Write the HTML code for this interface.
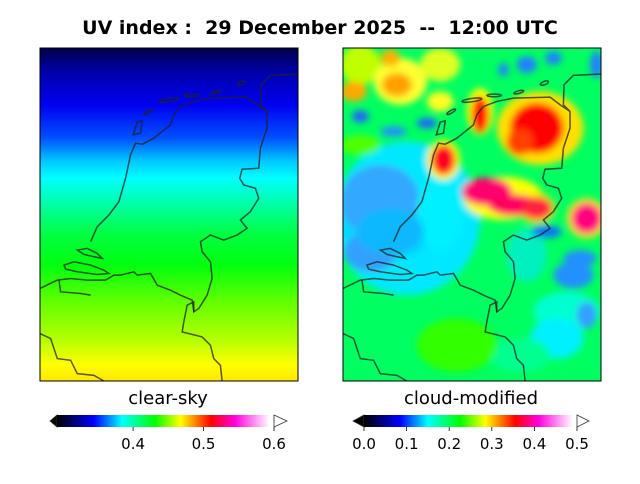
<!DOCTYPE html>
<html><head><meta charset="utf-8"><style>
html,body{margin:0;padding:0;background:#fff;}
#c{position:relative;width:640px;height:480px;font-family:"DejaVu Sans","Liberation Sans",sans-serif;}
text{white-space:pre;}
</style></head><body>
<div id="c">
<svg id="s" width="640" height="480" viewBox="0 0 640 480" xmlns="http://www.w3.org/2000/svg" xml:space="preserve">
<defs>
<linearGradient id="clear" x1="0" y1="0" x2="0" y2="1">
<stop offset="0" stop-color="#000048"/><stop offset="0.07" stop-color="#0000a8"/>
<stop offset="0.17" stop-color="#0000f0"/><stop offset="0.27" stop-color="#0050ff"/>
<stop offset="0.34" stop-color="#00c8ff"/><stop offset="0.39" stop-color="#00ffff"/>
<stop offset="0.46" stop-color="#00ffb0"/><stop offset="0.56" stop-color="#00ff40"/>
<stop offset="0.65" stop-color="#00ff10"/><stop offset="0.76" stop-color="#60ff00"/>
<stop offset="0.88" stop-color="#b8ff00"/><stop offset="0.95" stop-color="#ffff00"/>
<stop offset="1" stop-color="#ffe800"/></linearGradient>
<linearGradient id="cmap" x1="0" y1="0" x2="1" y2="0">
<stop offset="0" stop-color="#000"/><stop offset="0.17" stop-color="#0000ff"/>
<stop offset="0.30" stop-color="#00ffff"/><stop offset="0.45" stop-color="#00ff00"/>
<stop offset="0.57" stop-color="#ffff00"/><stop offset="0.63" stop-color="#ff9000"/>
<stop offset="0.71" stop-color="#ff0000"/><stop offset="0.82" stop-color="#ff00e0"/>
<stop offset="0.98" stop-color="#ffffff"/><stop offset="1" stop-color="#fff"/></linearGradient>
<filter id="bl" x="-20%" y="-20%" width="140%" height="140%"><feGaussianBlur stdDeviation="10"/></filter>
<clipPath id="cp"><rect x="8" y="10" width="775" height="997"/></clipPath>
<g id="coast" fill="none" stroke="#222" stroke-opacity="0.75" stroke-width="4.5">
<path d="M8,730 L60,705 L100,700 L150,705 L205,705"/>
<path d="M160,590 L180,545 L215,510 L245,470 L265,400 L280,330 L295,295 L315,298 L350,280 L400,240 L410,210 L430,185 L470,170 L520,160 L630,157 L660,180 L690,200 L670,180 L672,120 L700,92 L783,88"/>
<path d="M690,200 L690,250 L670,310 L665,370 L615,373 L608,400 L620,420 L655,430 L665,460 L640,500 L610,525 L630,550 L600,570 L560,585 L520,570 L490,590 L495,620 L520,650 L525,700 L510,750 L485,790 L470,800 L470,770 L450,780 L440,830 L435,860 L495,875 L520,900 L530,940 L550,960 L555,1007"/>
<path d="M205,705 L230,690 L250,690 L290,680 L300,690 L340,685 L360,720 L400,735 L430,750 L465,765 L470,800"/>
<path d="M120,615 L150,610 L180,625 L195,640 L170,635 L140,628 Z"/>
<path d="M80,660 L110,650 L160,660 L200,675 L215,685 L180,688 L120,680 L85,672 Z"/>
<path d="M65,705 L70,740 L130,745 L160,750"/>
<path d="M8,865 L40,880 L60,940 L100,945 L120,985 L170,990 L200,1007"/>
<path d="M288,270 L300,232 L315,228 L310,265 Z"/>
<ellipse cx="333" cy="201" rx="15" ry="4" transform="rotate(-30 333 201)"/>
<ellipse cx="395" cy="166" rx="30" ry="5" transform="rotate(-8 395 166)"/>
<ellipse cx="462" cy="152" rx="22" ry="4"/>
<ellipse cx="536" cy="142" rx="15" ry="4" transform="rotate(-15 536 142)"/>
<ellipse cx="613" cy="115" rx="13" ry="5" transform="rotate(-20 613 115)"/>
</g>
</defs>
<text x="320" y="34" text-anchor="middle" font-size="19" font-weight="bold" fill="#000">UV index :  29 December 2025  --  12:00 UTC</text>

<svg x="40" y="48" width="258" height="333" viewBox="8 10 775 997" preserveAspectRatio="none">
<rect x="8" y="10" width="775" height="997" fill="url(#clear)"/>
<use href="#coast"/>
</svg>
<rect x="40" y="48" width="258" height="333" fill="none" stroke="#000" stroke-width="1"/>

<svg x="343" y="48" width="258" height="333" viewBox="8 10 775 997" preserveAspectRatio="none">
<g clip-path="url(#cp)">
<rect x="8" y="10" width="775" height="997" fill="#00ff60"/>
<g id="blobs" filter="url(#bl)"></g>
<use href="#coast"/>
</g>
</svg>
<rect x="343" y="48" width="258" height="333" fill="none" stroke="#000" stroke-width="1"/>

<text x="168" y="404" text-anchor="middle" font-size="18" fill="#000">clear-sky</text>
<text x="471" y="404" text-anchor="middle" font-size="18" fill="#000">cloud-modified</text>

<g>
<polygon points="57,415 50,421 57,427" fill="#000" stroke="#333" stroke-width="0.8"/>
<rect x="57" y="415" width="217" height="12" fill="url(#cmap)"/>
<polygon points="274,415 287,421 274,427" fill="#fff" stroke="#333" stroke-width="0.8"/>
<g id="ticksL"></g>
</g>
<g>
<polygon points="364,415 353,421 364,427" fill="#000" stroke="#333" stroke-width="0.8"/>
<rect x="364" y="415" width="213" height="12" fill="url(#cmap)"/>
<polygon points="577,415 589,421 577,427" fill="#fff" stroke="#333" stroke-width="0.8"/>
<g id="ticksR"></g>
</g>
</svg>
</div>
<script>
const leftTicks=[0.4,0.5,0.6];
const leftRange=[0.292,0.6];
const rightTicks=[0.0,0.1,0.2,0.3,0.4,0.5];
const rightRange=[0.0,0.5];
// cloud features in map coords
const featX=[200,150,120,90,300,150,560,680,700,650,60,60,180,300,40,170,150,300,60,160,260,560,640,770,490,420,600,420,590,540,310,310,490,500,590,740,440,520,590,740,620,720,740,540,350];
const featY=[520,530,470,620,500,560,630,800,690,880,300,60,110,60,140,120,40,170,215,260,235,60,40,60,75,200,250,210,250,290,345,345,460,470,490,520,440,480,490,520,560,640,810,930,900];
const featRX=[220,150,120,80,70,100,60,100,60,80,60,60,80,60,40,45,30,40,25,40,30,30,25,20,15,40,130,25,80,40,50,35,120,100,55,60,75,75,45,45,45,50,30,90,120];
const featRY=[230,110,110,60,120,70,80,60,40,60,30,60,70,50,30,35,25,30,18,15,15,25,20,40,20,70,110,55,75,40,60,45,65,50,45,60,42,32,32,45,18,25,40,50,80];
const featC=["#00e8ff","#00d8ff","#30a8ff","#30a0ff","#00f0ff","#10b8ff","#00f0c0","#00ffd0","#2090ff","#00f0ff","#50ff00","#c0ff00","#ffff30","#e0ff20","#ffa800","#ffa000","#ffb000","#ffff20","#2060ff","#2090ff","#2060ff","#2080ff","#2080ff","#2080ff","#2080ff","#ffff00","#ffe000","#ff1000","#ff0000","#ff4000","#ffff00","#ff0020","#ffff00","#ffff00","#ffe000","#ffe000","#ff0070","#ff0060","#ff2040","#ff0080","#1070ff","#2090ff","#30a0ff","#00ff90","#30ff00"];
const NS="http://www.w3.org/2000/svg";
const blobs=document.getElementById('blobs');
for(let i=0;i<featX.length;i++){
 const e=document.createElementNS(NS,'ellipse');
 e.setAttribute('cx',featX[i]);e.setAttribute('cy',featY[i]);
 e.setAttribute('rx',featRX[i]);e.setAttribute('ry',featRY[i]);
 e.setAttribute('fill',featC[i]);
 
 
 blobs.appendChild(e);
}
function ticks(gid,vals,range,x0,x1,dec){
 const g=document.getElementById(gid);
 const sc=v=>x0+(v-range[0])/(range[1]-range[0])*(x1-x0);
 vals.forEach(v=>{
  const x=sc(v);
  const l=document.createElementNS(NS,'line');
  l.setAttribute('x1',x);l.setAttribute('x2',x);l.setAttribute('y1',427);l.setAttribute('y2',431);
  l.setAttribute('stroke','#000');l.setAttribute('stroke-width','0.8');
  
  
  g.appendChild(l);
  const t=document.createElementNS(NS,'text');
  t.setAttribute('x',x);t.setAttribute('y',449);t.setAttribute('text-anchor','middle');
  t.setAttribute('font-size','15');t.textContent=v.toFixed(dec);
  
  
  g.appendChild(t);
 });
}
ticks('ticksL',leftTicks,leftRange,57,274,1);
ticks('ticksR',rightTicks,rightRange,364,577,1);
</script>
</body></html>
